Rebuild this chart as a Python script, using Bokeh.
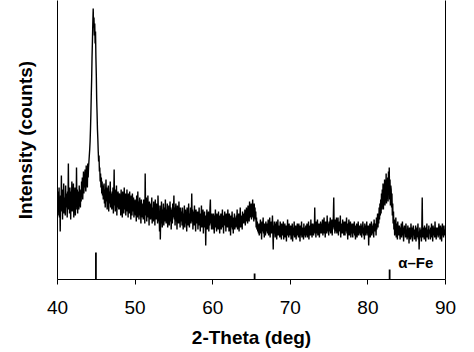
from bokeh.plotting import figure
from bokeh.models import Range1d, LinearAxis, FixedTicker
from bokeh.core.properties import value
from bokeh.embed import file_html
from bokeh.resources import INLINE

# scan grid: 40.00 .. 90.00 deg in 0.05 deg steps (20 readings per degree)
scan_start = 40.0
scan_step = 0.05
intensity_rows = [
    [80, 64, 88, 70, 92, 62, 78, 48, 84, 68, 104, 72, 90, 60, 86, 74, 96, 66, 82, 70],      # 40
    [64, 94, 72, 86, 80, 62, 88, 74, 116, 70, 84, 66, 92, 76, 60, 88, 72, 98, 68, 84],      # 41
    [74, 96, 62, 86, 78, 92, 64, 84, 70, 112, 76, 90, 66, 88, 80, 70, 94, 74, 86, 72],      # 42
    [90, 78, 98, 84, 102, 80, 94, 108, 86, 100, 92, 110, 96, 88, 114, 98, 106, 92, 116, 102],  # 43
    [112, 118, 124, 130, 138, 150, 165, 184, 200, 222, 238, 256, 271, 252, 262, 244, 256, 236, 248, 222],  # 44
    [205, 180, 166, 150, 140, 128, 118, 124, 108, 112, 98, 106, 92, 102, 86, 98, 84, 94, 80, 92],  # 45
    [96, 76, 90, 72, 88, 100, 78, 92, 70, 86, 80, 94, 68, 88, 76, 84, 98, 72, 86, 78],      # 46
    [70, 88, 76, 92, 66, 84, 110, 74, 90, 68, 82, 76, 94, 64, 86, 72, 88, 78, 70, 84],      # 47
    [86, 70, 82, 64, 90, 74, 80, 62, 88, 72, 84, 66, 92, 76, 70, 86, 64, 80, 74, 90],       # 48
    [68, 82, 62, 86, 74, 66, 88, 70, 80, 60, 84, 72, 64, 86, 76, 68, 82, 62, 78, 72],       # 49
    [80, 64, 76, 58, 84, 70, 62, 88, 66, 78, 60, 74, 82, 64, 70, 56, 80, 68, 76, 62],       # 50
    [74, 60, 80, 66, 72, 56, 106, 70, 64, 82, 58, 76, 68, 84, 62, 72, 54, 78, 66, 74],      # 51
    [60, 76, 64, 82, 56, 72, 66, 58, 78, 62, 74, 54, 80, 68, 60, 76, 64, 70, 56, 84],       # 52
    [70, 58, 64, 48, 74, 40, 62, 56, 78, 64, 52, 70, 60, 76, 54, 66, 72, 58, 80, 62],       # 53
    [56, 70, 62, 76, 52, 68, 60, 74, 54, 66, 78, 58, 72, 50, 64, 70, 56, 76, 62, 68],       # 54
    [84, 60, 72, 54, 68, 76, 58, 64, 50, 74, 62, 70, 56, 78, 60, 66, 52, 72, 64, 58],       # 55
    [68, 54, 72, 60, 50, 66, 58, 74, 52, 64, 70, 56, 62, 48, 72, 60, 66, 54, 76, 58],       # 56
    [52, 66, 60, 72, 56, 64, 86, 58, 70, 50, 62, 68, 54, 74, 58, 64, 48, 70, 60, 66],       # 57
    [56, 68, 50, 64, 58, 72, 54, 62, 48, 66, 60, 74, 52, 64, 56, 70, 46, 62, 58, 68],       # 58
    [52, 64, 34, 60, 56, 70, 50, 62, 58, 68, 48, 64, 54, 72, 80, 56, 62, 50, 66, 58],       # 59
    [62, 50, 66, 56, 46, 64, 58, 70, 52, 60, 48, 66, 56, 62, 50, 68, 54, 60, 46, 64],       # 60
    [58, 66, 50, 62, 56, 70, 52, 60, 46, 64, 58, 68, 54, 62, 48, 66, 56, 60, 52, 70],       # 61
    [54, 62, 48, 66, 56, 60, 44, 64, 52, 58, 68, 50, 62, 46, 60, 54, 66, 50, 58, 62],       # 62
    [52, 64, 56, 70, 50, 60, 54, 66, 48, 62, 58, 72, 52, 64, 56, 60, 50, 68, 58, 62],       # 63
    [56, 66, 60, 70, 54, 64, 58, 72, 62, 68, 56, 74, 64, 70, 58, 78, 62, 72, 66, 76],       # 64
    [60, 74, 66, 80, 62, 70, 58, 76, 64, 72, 60, 68, 52, 62, 50, 58, 48, 56, 46, 54],       # 65
    [44, 56, 50, 60, 46, 54, 40, 58, 48, 52, 62, 46, 54, 42, 56, 50, 44, 58, 48, 54],       # 66
    [56, 46, 52, 60, 44, 54, 48, 62, 42, 56, 50, 58, 46, 52, 64, 48, 30, 54, 46, 58],       # 67
    [50, 42, 56, 46, 58, 40, 52, 48, 60, 44, 54, 46, 50, 42, 58, 48, 52, 40, 56, 46],       # 68
    [52, 44, 58, 40, 50, 46, 56, 42, 48, 54, 38, 52, 46, 60, 44, 50, 42, 56, 46, 52],       # 69
    [44, 54, 40, 50, 46, 56, 38, 52, 44, 48, 58, 42, 50, 46, 54, 40, 52, 44, 56, 48],       # 70
    [50, 42, 56, 46, 52, 38, 54, 44, 48, 58, 42, 52, 46, 50, 40, 56, 44, 52, 48, 42],       # 71
    [54, 44, 50, 56, 42, 52, 46, 58, 40, 50, 48, 54, 44, 60, 46, 52, 42, 56, 48, 50],       # 72
    [44, 56, 48, 72, 46, 54, 42, 58, 50, 46, 60, 44, 52, 48, 56, 42, 54, 50, 58, 46],       # 73
    [56, 46, 52, 60, 44, 54, 50, 62, 46, 56, 42, 58, 50, 54, 46, 64, 48, 52, 56, 44],       # 74
    [58, 48, 54, 62, 46, 56, 50, 60, 44, 58, 52, 64, 82, 50, 56, 46, 60, 52, 48, 62],       # 75
    [46, 56, 50, 62, 44, 54, 48, 58, 52, 64, 42, 56, 50, 54, 46, 60, 48, 56, 44, 58],       # 76
    [52, 44, 58, 48, 54, 62, 46, 52, 40, 56, 50, 60, 44, 54, 48, 58, 42, 52, 46, 56],       # 77
    [50, 42, 56, 46, 52, 58, 44, 50, 40, 54, 48, 56, 42, 52, 46, 58, 44, 50, 54, 46],       # 78
    [52, 44, 56, 48, 42, 54, 46, 58, 50, 44, 52, 40, 56, 48, 54, 44, 50, 58, 46, 52],       # 79
    [44, 54, 34, 50, 46, 56, 42, 52, 48, 58, 44, 50, 54, 46, 56, 42, 60, 50, 54, 48],       # 80
    [56, 44, 62, 50, 58, 66, 52, 64, 56, 72, 60, 76, 64, 80, 66, 86, 70, 90, 72, 96],       # 81
    [70, 92, 78, 100, 74, 94, 80, 106, 76, 98, 84, 102, 78, 108, 86, 112, 80, 100, 74, 94], # 82
    [90, 72, 86, 64, 76, 56, 68, 50, 60, 44, 58, 50, 62, 42, 56, 48, 40, 58, 46, 54],       # 83
    [44, 54, 48, 40, 52, 46, 56, 42, 50, 58, 44, 52, 38, 48, 54, 46, 50, 42, 56, 48],       # 84
    [50, 40, 46, 54, 42, 48, 36, 52, 44, 50, 40, 56, 46, 42, 52, 38, 48, 54, 44, 50],       # 85
    [40, 50, 46, 54, 38, 48, 42, 52, 46, 56, 40, 48, 30, 44, 52, 42, 50, 46, 38, 52],       # 86
    [82, 46, 42, 52, 48, 40, 54, 46, 50, 38, 52, 44, 56, 42, 48, 50, 40, 54, 46, 50],       # 87
    [48, 40, 52, 46, 56, 42, 50, 38, 54, 44, 48, 52, 42, 58, 46, 50, 40, 52, 44, 48],       # 88
    [52, 42, 48, 56, 44, 50, 40, 54, 46, 52, 38, 50, 56, 44, 48, 42, 54, 46, 50, 44],       # 89
    [48],                                                                                  # 90
]

# alpha-Fe reference lines
ref_positions = [44.95, 65.4, 82.8]
ref_heights = [27, 6, 10]
ref_label = "\u03b1\u2013Fe"

x_ticks = [40, 50, 60, 70, 80, 90]

intensity = [v for row in intensity_rows for v in row]
two_theta = [round(scan_start + i * scan_step, 2) for i in range(len(intensity))]

FONT = "Liberation Sans"

p = figure(width=474, height=352, output_backend="svg", toolbar_location=None,
           x_range=Range1d(40, 90), y_range=Range1d(0, 279),
           min_border_left=57, min_border_right=29, min_border_top=0,
           min_border_bottom=73)
p.outline_line_color = None
p.xgrid.visible = False
p.ygrid.visible = False
p.background_fill_color = "white"
p.border_fill_color = "white"

p.line(two_theta, intensity, line_color="black", line_width=1.4)

p.segment(x0=ref_positions, y0=[0] * len(ref_positions), x1=ref_positions,
          y1=ref_heights, line_color="black", line_width=1.8)
p.text(x=[83.9], y=[17], text=[ref_label], text_font=value(FONT),
       text_font_style="bold", text_font_size="15px", text_color="black",
       text_baseline="middle", text_align="left")

xa = p.xaxis[0]
xa.ticker = FixedTicker(ticks=x_ticks)
xa.minor_tick_line_color = None
xa.major_tick_out = 5
xa.major_tick_in = 0
xa.axis_line_color = "black"
xa.major_tick_line_color = "black"
xa.major_label_text_font = FONT
xa.major_label_text_font_size = "19px"
xa.major_label_text_color = "black"
xa.major_label_standoff = 16
xa.axis_label = "2-Theta (deg)"
xa.axis_label_text_font = FONT
xa.axis_label_text_font_style = "bold"
xa.axis_label_text_font_size = "19px"
xa.axis_label_text_color = "black"
xa.axis_label_standoff = 10

ya = p.yaxis[0]
ya.ticker = FixedTicker(ticks=[])
ya.minor_tick_line_color = None
ya.major_tick_line_color = None
ya.axis_line_color = "black"
ya.axis_label = "Intensity (counts)"
ya.axis_label_text_font = FONT
ya.axis_label_text_font_style = "bold"
ya.axis_label_text_font_size = "19px"
ya.axis_label_text_color = "black"
ya.axis_label_standoff = 22

ra = LinearAxis(ticker=FixedTicker(ticks=[]))
ra.minor_tick_line_color = None
ra.major_tick_line_color = None
ra.axis_line_color = "black"
p.add_layout(ra, "right")

open("out.html", "w").write(file_html(p, INLINE))
